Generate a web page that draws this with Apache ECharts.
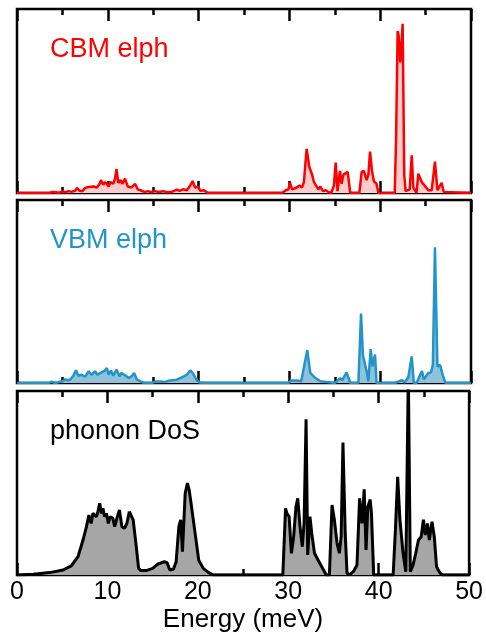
<!DOCTYPE html>
<html>
<head>
<meta charset="utf-8">
<script src="https://cdn.jsdelivr.net/npm/echarts@6/dist/echarts.min.js"></script>
<style>
  html, body { margin: 0; padding: 0; background: #fff; }
  #chart { width: 486px; height: 635px; }
</style>
</head>
<body>
<div id="chart"></div>
<script>
// energies (meV) and intensities (arb. units, 0..1 per panel)
const cbmE = [0, 3.6, 3.9, 4.3, 4.6, 5.0, 5.3, 5.7, 6.0, 6.4, 6.6, 6.9, 7.2, 7.5, 7.9, 8.4, 8.8, 9.1, 9.25, 9.5, 9.7, 9.9, 10.1, 10.3, 10.6, 10.8, 10.97, 11.15, 11.4, 11.6, 11.9, 12.2, 12.6, 13.0, 13.3, 13.6, 14.1, 14.4, 14.8, 15.2, 15.6, 16.1, 16.5, 17.0, 17.6, 17.9, 18.3, 18.7, 19.0, 19.35, 19.6, 19.9, 20.2, 20.6, 21.0,
  29.2, 29.6, 29.9, 30.07, 30.3, 30.5, 30.8, 31.1, 31.4, 31.6, 31.9, 32.2, 32.5, 32.7, 33.0, 33.2, 33.4, 33.7, 34.0, 34.3, 34.6, 34.9, 35.1, 35.3, 35.57, 35.75, 35.95, 36.15, 36.42, 36.7,
  37.7, 37.96, 38.2, 38.5, 38.7, 38.88, 39.1, 39.3, 39.6, 39.8, 41.6, 41.75, 41.92, 42.05, 42.2, 42.3, 42.47, 42.65, 42.8, 43.0, 43.25, 43.47, 43.65, 43.7, 44.0, 44.2, 44.57, 44.9, 45.3, 45.67, 46.03, 46.3, 46.5, 46.77, 47.0, 47.2, 50];
const cbmV = [0, 0, 0.006, 0.004, 0, 0.008, 0.004, 0.01, 0.006, 0.012, 0.028, 0.012, 0.01, 0.028, 0.033, 0.035, 0.03, 0.05, 0.07, 0.045, 0.06, 0.055, 0.035, 0.06, 0.05, 0.08, 0.13, 0.055, 0.07, 0.05, 0.078, 0.035, 0.03, 0.05, 0.02, 0.015, 0.005, 0.01, 0.004, 0.01, 0.005, 0.01, 0.004, 0.005, 0.018, 0.012, 0.02, 0.015, 0.035, 0.065, 0.03, 0.035, 0.012, 0.015, 0,
  0, 0.015, 0.02, 0.055, 0.02, 0.01, 0.03, 0.04, 0.03, 0.06, 0.24, 0.14, 0.1, 0.06, 0.035, 0.02, 0.035, 0.01, 0.015, 0.005, 0, 0.04, 0.165, 0.01, 0.12, 0.05, 0.1, 0.11, 0.115, 0,
  0, 0.115, 0.12, 0.07, 0.1, 0.225, 0.12, 0.065, 0.05, 0, 0, 0.3, 0.88, 0.85, 0.71, 0.75, 0.92, 0.1, 0.01, 0, 0.02, 0.205, 0.03, 0.03, 0, 0.105, 0.06, 0.04, 0.015, 0.015, 0.17, 0.015, 0.02, 0.055, 0.005, 0, 0];

const vbmE = [0, 3.5, 3.8, 4.2, 5.0, 5.3, 5.6, 5.9, 6.2, 6.5, 6.75, 7.1, 7.5, 7.9, 8.2, 8.6, 8.85, 9.3, 9.6, 9.9, 10.1, 10.35, 10.6, 10.97, 11.3, 11.5, 11.9, 12.3, 12.6, 12.9, 13.2, 13.6, 14.0, 14.8, 15.3, 15.8, 16.3, 16.7, 17.1, 17.6, 18.1, 18.7, 19.1, 19.4, 19.8, 20.1, 20.8,
  29.9, 30.2, 30.8, 31.3, 31.97, 32.3, 32.8, 33.4, 33.6, 35.0, 35.2, 35.6, 35.8, 36.3, 36.7, 37.6, 37.89, 38.1, 38.5, 38.7, 38.95, 39.15, 39.43, 39.6,
  41.6, 41.8, 42.4, 42.7, 43.1, 43.47, 43.7, 44.0, 44.6, 44.8, 45.3, 45.6, 45.8, 46.03, 46.3, 46.59, 46.9, 47.2, 50];
const vbmV = [0, 0, 0.008, 0, 0.01, 0.02, 0.015, 0.02, 0.04, 0.07, 0.04, 0.045, 0.035, 0.064, 0.045, 0.064, 0.045, 0.058, 0.065, 0.082, 0.045, 0.068, 0.04, 0.073, 0.036, 0.055, 0.042, 0.028, 0.035, 0.055, 0.018, 0.009, 0, 0, 0.008, 0.008, 0.006, 0.012, 0.015, 0.018, 0.03, 0.045, 0.07, 0.05, 0.015, 0.003, 0,
  0, 0.014, 0.014, 0.01, 0.18, 0.055, 0.03, 0.01, 0, 0, 0.01, 0.027, 0.015, 0.058, 0, 0, 0.38, 0.15, 0.065, 0.01, 0.185, 0.09, 0.155, 0,
  0, 0.01, 0.015, 0.003, 0.033, 0.145, 0, 0, 0.065, 0.02, 0.055, 0.058, 0.1, 0.742, 0.09, 0.1, 0.04, 0, 0];

const dosE = [0, 1.8, 3.6, 5.1, 6.0, 6.75, 7.3, 7.67, 7.95, 8.2, 8.4, 8.77, 8.95, 9.14, 9.35, 9.5, 9.7, 9.9, 10.1, 10.3, 10.6, 10.8, 11.0, 11.33, 11.6, 11.9, 12.15, 12.42, 12.6, 12.85, 13.15, 13.45, 13.7, 14.3, 15.0, 15.6, 16.3, 16.6, 16.9, 17.3, 17.6, 17.9, 18.1, 18.3, 18.6, 18.85, 19.05, 19.25, 19.45, 19.7, 20.1, 20.6, 21.2, 21.7,
  29.4, 29.7, 29.85, 30.1, 30.35, 30.6, 30.85, 31.05, 31.3, 31.55, 31.75, 31.97, 32.15, 32.4, 32.6, 32.9, 33.4, 33.9, 34.2, 34.55, 34.84, 35.1, 35.4, 35.65, 35.85, 36.05, 36.3, 36.5, 36.8, 37.2, 37.6, 37.89, 38.15, 38.4, 38.6, 38.8, 39.06, 39.2, 39.45,
  41.6, 41.85, 42.1, 42.35, 42.7, 43.0, 43.28, 43.5, 43.8, 44.1, 44.4, 44.7, 44.95, 45.15, 45.4, 45.6, 45.9, 46.15, 46.4, 46.8, 47.1, 50];
const dosV = [0, 0.004, 0.013, 0.027, 0.05, 0.1, 0.19, 0.26, 0.326, 0.28, 0.335, 0.317, 0.344, 0.39, 0.335, 0.362, 0.317, 0.335, 0.28, 0.317, 0.308, 0.263, 0.3, 0.353, 0.263, 0.254, 0.28, 0.344, 0.326, 0.3, 0.172, 0.036, 0.024, 0.024, 0.036, 0.06, 0.072, 0.067, 0.027, 0.031, 0.072, 0.263, 0.3, 0.127, 0.444, 0.5, 0.46, 0.39, 0.4, 0.226, 0.08, 0.036, 0.013, 0,
  0, 0.362, 0.335, 0.317, 0.118, 0.21, 0.37, 0.417, 0.263, 0.154, 0.28, 0.846, 0.109, 0.317, 0.226, 0.118, 0.072, 0.027, 0, 0, 0.38, 0.3, 0.172, 0.118, 0.21, 0.72, 0.226, 0.009, 0.002, 0.018, 0.054, 0.417, 0.28, 0.466, 0.136, 0.37, 0.41, 0.335, 0,
  0, 0.245, 0.534, 0.3, 0.118, 0.018, 1.1, 0.018, 0.054, 0.118, 0.19, 0.208, 0.3, 0.217, 0.28, 0.19, 0.29, 0.208, 0.045, 0.009, 0, 0];

const xTicks = [0, 10, 20, 30, 40, 50];
const panelNames = ['CBM elph', 'VBM elph', 'phonon DoS'];

const font = "'Liberation Sans', Arial, Helvetica, sans-serif";
const pair = (xs, ys) => xs.map((x, i) => [x, ys[i]]);

const panels = [
  { top: 9, height: 184, line: '#ff0000', fill: '#ffcccc', text: '#ff0000', data: pair(cbmE, cbmV), width: 2.5 },
  { top: 200, height: 183, line: '#2394c8', fill: '#8fc3dc', text: '#2394c8', data: pair(vbmE, vbmV), width: 2.5 },
  { top: 391, height: 184, line: '#000000', fill: '#a6a6a6', text: '#000000', data: pair(dosE, dosV), width: 3 }
];

function xAxisFor(i, position, labels) {
  return {
    type: 'value',
    gridIndex: i,
    position: position,
    min: xTicks[0],
    max: xTicks[xTicks.length - 1],
    interval: 10,
    axisLine: { show: false },
    axisTick: { show: true, inside: true, length: 12, lineStyle: { color: '#000', width: 2.5 } },
    minorTick: { show: true, splitNumber: 2, length: 6, lineStyle: { color: '#000', width: 2.5 } },
    splitLine: { show: false },
    axisLabel: { show: labels, color: '#000', fontSize: 25, fontFamily: font, margin: 5 },
    name: labels ? 'Energy (meV)' : '',
    nameLocation: 'middle',
    nameGap: 32,
    nameTextStyle: { color: '#000', fontSize: 26, fontFamily: font }
  };
}

const chart = echarts.init(document.getElementById('chart'));
chart.setOption({
  animation: false,
  backgroundColor: '#fff',
  grid: panels.map(p => ({
    left: 17, right: 15, top: p.top, height: p.height,
    show: true, borderColor: '#000', borderWidth: 2.5, backgroundColor: 'transparent'
  })),
  xAxis: panels.flatMap((p, i) => [xAxisFor(i, 'bottom', i === 2), xAxisFor(i, 'top', false)]),
  yAxis: panels.map((p, i) => ({
    type: 'value', gridIndex: i, min: 0, max: 1, show: false
  })),
  series: panels.map((p, i) => ({
    type: 'line',
    xAxisIndex: 2 * i,
    yAxisIndex: i,
    showSymbol: false,
    clip: true,
    lineStyle: { color: p.line, width: p.width },
    areaStyle: { color: p.fill, opacity: 1 },
    data: p.data
  })),
  graphic: panels.map((p, i) => ({
    type: 'text',
    left: 50,
    top: p.top + 27,
    style: { text: panelNames[i], fill: p.text, font: '27px ' + font }
  }))
});
window.addEventListener('resize', () => chart.resize());
</script>
</body>
</html>
